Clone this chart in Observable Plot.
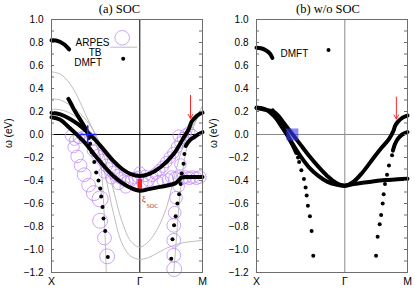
<!DOCTYPE html>
<html><head><meta charset="utf-8">
<script src="https://cdn.jsdelivr.net/npm/d3@7"></script>
<script src="https://cdn.jsdelivr.net/npm/@observablehq/plot@0.6"></script>
<style>
body{margin:0;background:#fff;}
#wrap{position:relative;width:415px;height:289px;overflow:hidden;}
#wrap svg{position:absolute;top:0;}
</style></head><body><div id="wrap"></div>
<script>
// ---- axes / labels ----
const kLabels = ["X", "Γ", "M"];
const kPos = [0, 1, 1.71];
const yTickLabels = [-1.2, -1.0, -0.8, -0.6, -0.4, -0.2, 0.0, 0.2, 0.4, 0.6, 0.8, 1.0];
const yMinorTicks = [-1.2,-1.1,-1.0,-0.9,-0.8,-0.7,-0.6,-0.5,-0.4,-0.3,-0.2,-0.1,0,0.1,0.2,0.3,0.4,0.5,0.6,0.7,0.8,0.9,1.0];
const yLabel = "ω (eV)";
const titleA = "(a) SOC";
const titleB = "(b) w/o SOC";
const legendA = ["ARPES", "TB", "DMFT"];
const legendB = ["DMFT"];

// ---- panel (a): DMFT (k, ω) ----
const dmftA_top = [[0,0.82],[0.05,0.818],[0.1,0.805],[0.15,0.78],[0.2,0.74]];
const dmftA_upper = [[0,0.19],[0.1,0.175],[0.2,0.14],[0.3,0.09],[0.4,0.025],[0.5,-0.05],[0.6,-0.14],[0.7,-0.23],[0.8,-0.30],[0.9,-0.345],[1.0,-0.36],[1.1,-0.345],[1.234,-0.285],[1.385,-0.168],[1.5,-0.023],[1.55,0.04],[1.57,0.08],[1.59,0.115],[1.63,0.15],[1.67,0.175],[1.71,0.19]];
const dmftA_lower = [[0,0.15],[0.1,0.128],[0.2,0.06],[0.3,-0.01],[0.4,-0.09],[0.5,-0.19],[0.6,-0.28],[0.7,-0.36],[0.8,-0.42],[0.9,-0.465],[1.0,-0.49],[1.1,-0.475],[1.2,-0.46],[1.3,-0.445],[1.4,-0.425],[1.44,-0.40],[1.47,-0.375],[1.55,-0.37],[1.63,-0.37],[1.71,-0.37]];
const dmftA_steepXG = [[0.19,0.31],[0.22,0.27],[0.26,0.21],[0.30,0.16],[0.34,0.11],[0.38,0.06],[0.41,0.01],[0.425,-0.03]];
const dmftA_steepGM = [[1.52,-0.10],[1.55,-0.065],[1.59,-0.035],[1.63,-0.015],[1.67,0.005],[1.71,0.02]];
const dmftA_dotsXG = [[0.438,-0.08],[0.456,-0.155],[0.484,-0.24],[0.506,-0.33],[0.532,-0.40],[0.552,-0.47],[0.563,-0.54],[0.578,-0.63],[0.589,-0.73],[0.608,-0.84],[0.638,-1.065]];
const dmftA_dotsGM = [[1.505,-0.17],[1.495,-0.255],[1.475,-0.34],[1.462,-0.43],[1.445,-0.52],[1.426,-0.60],[1.406,-0.71],[1.388,-0.79],[1.37,-0.91],[1.356,-1.08]];

// ---- panel (a): tight-binding bands ----
const tb1 = [[0,0.545],[0.1,0.525],[0.2,0.45],[0.3,0.32],[0.4,0.15],[0.47,0.04],[0.53,-0.1],[0.57,-0.35],[0.6,-0.75],[0.62,-1.2]];
const tb2 = [[0,0.31],[0.1,0.3],[0.2,0.26],[0.3,0.2],[0.4,0.12],[0.5,0.0],[0.6,-0.2],[0.7,-0.48],[0.8,-0.76],[0.9,-0.93],[1.0,-0.98],[1.1,-0.93],[1.2,-0.82],[1.3,-0.64],[1.35,-0.5],[1.4,-0.34],[1.45,-0.2],[1.5,-0.08],[1.6,0.08],[1.71,0.2]];
const tb3 = [[0,0.22],[0.1,0.215],[0.2,0.19],[0.3,0.14],[0.4,0.06],[0.5,-0.08],[0.6,-0.33],[0.7,-0.68],[0.8,-0.95],[0.9,-1.06],[1.0,-1.085],[1.1,-1.07],[1.2,-1.03],[1.3,-0.99],[1.4,-0.96],[1.5,-0.94],[1.6,-0.93],[1.71,-0.92]];
const tb4 = [[1.385,-1.2],[1.41,-0.95],[1.435,-0.7],[1.46,-0.49],[1.49,-0.3],[1.53,-0.12],[1.6,0.05],[1.71,0.25]];

// ---- panel (a): ARPES peaks (k, ω, width in eV) ----
const arpesA = [
 [0.22,-0.01,0.05],[0.26,-0.05,0.045],[0.31,-0.03,0.05],[0.36,-0.02,0.05],[0.40,-0.02,0.055],[0.44,-0.05,0.05],
 [0.25,-0.11,0.05],[0.29,-0.19,0.055],[0.33,-0.27,0.055],[0.37,-0.35,0.06],[0.42,-0.44,0.06],[0.48,-0.51,0.065],
 [0.55,-0.56,0.07],[0.55,-0.75,0.065],[0.60,-0.90,0.06],[0.63,-1.06,0.065],
 [0.47,-0.14,0.05],[0.52,-0.18,0.05],[0.57,-0.22,0.05],[0.62,-0.27,0.055],[0.66,-0.3,0.055],[0.7,-0.33,0.055],
 [0.74,-0.36,0.055],[0.78,-0.38,0.05],[0.82,-0.4,0.05],[0.86,-0.41,0.05],[0.9,-0.4,0.05],[0.94,-0.38,0.05],[0.98,-0.37,0.05],
 [0.6,-0.33,0.05],[0.68,-0.38,0.05],[0.76,-0.43,0.05],[0.84,-0.46,0.05],
 [1.0,-0.33,0.05],[1.03,-0.42,0.05],[1.06,-0.36,0.05],[1.1,-0.4,0.05],[1.14,-0.36,0.05],
 [1.18,-0.34,0.05],[1.22,-0.31,0.05],[1.26,-0.28,0.05],[1.3,-0.24,0.05],[1.34,-0.2,0.05],[1.38,-0.16,0.05],
 [1.42,-0.11,0.05],[1.46,-0.07,0.05],[1.49,-0.03,0.05],[1.52,0.0,0.05],[1.56,0.02,0.05],[1.44,-0.01,0.05],[1.6,0.0,0.045],
 [1.2,-0.41,0.05],[1.26,-0.4,0.05],[1.32,-0.39,0.05],[1.36,-0.37,0.055],[1.4,-0.38,0.055],[1.44,-0.37,0.055],
 [1.48,-0.38,0.055],[1.52,-0.37,0.055],[1.56,-0.38,0.055],[1.6,-0.37,0.055],[1.64,-0.38,0.055],[1.68,-0.37,0.055],
 [1.46,-0.26,0.05],[1.44,-0.45,0.05],[1.41,-0.55,0.055],[1.395,-0.68,0.055],[1.385,-0.79,0.06],[1.385,-0.92,0.06],
 [1.385,-1.05,0.06],[1.39,-1.17,0.065]
];

// ---- panel (a) annotations ----
const kfA = [[0.41, 0.0]];
const arrowA = [{k: 1.574, from: 0.34, to: 0.14}];
const socBar = [{k: 1, lo: -0.49, hi: -0.39}];

// ---- panel (b): DMFT without SOC ----
const dmftB_top = [[0,0.755],[0.05,0.75],[0.1,0.735],[0.15,0.705],[0.18,0.665]];
const dmftB_1 = [[0,0.235],[0.1,0.22],[0.2,0.16],[0.3,0.05],[0.4,-0.07],[0.5,-0.19],[0.6,-0.29],[0.7,-0.36],[0.8,-0.41],[0.9,-0.435],[1.0,-0.445],[1.1,-0.43],[1.2,-0.42],[1.3,-0.41],[1.4,-0.40],[1.5,-0.395],[1.6,-0.39],[1.71,-0.385]];
const dmftB_2 = [[0,0.23],[0.1,0.215],[0.2,0.195],[0.25,0.16],[0.3,0.11],[0.4,0.01],[0.5,-0.09],[0.6,-0.19],[0.7,-0.28],[0.8,-0.36],[0.9,-0.42],[1.0,-0.445],[1.1,-0.41],[1.2,-0.33],[1.3,-0.23],[1.4,-0.13],[1.5,-0.04],[1.55,0.03],[1.57,0.075],[1.6,0.11],[1.65,0.145],[1.71,0.165]];
const dmftB_steepXG = [[0.184,0.21],[0.22,0.16],[0.26,0.11],[0.30,0.06],[0.34,0.01],[0.38,-0.05],[0.42,-0.11],[0.45,-0.16]];
const dmftB_steepGM = [[1.545,-0.14],[1.565,-0.09],[1.59,-0.05],[1.62,-0.02],[1.65,0.0],[1.68,0.012],[1.71,0.02]];
const dmftB_dotsXG = [[0.47,-0.2],[0.483,-0.24],[0.508,-0.31],[0.537,-0.386],[0.556,-0.46],[0.568,-0.53],[0.582,-0.62],[0.605,-0.71],[0.624,-0.84],[0.643,-1.055]];
const dmftB_dotsGM = [[1.535,-0.18],[1.5,-0.27],[1.478,-0.35],[1.455,-0.43],[1.44,-0.52],[1.429,-0.60],[1.411,-0.70],[1.395,-0.78],[1.372,-0.89],[1.354,-1.055]];
const kfB = [[0.406, 0.0]];
const arrowB = [{k: 1.584, from: 0.325, to: 0.135}];

// ---- drawing ----
const kx = d => d[0], ey = d => d[1];
const SANS = "'Liberation Sans', Arial, Helvetica, sans-serif";
const SERIF = "'Liberation Serif', 'Times New Roman', serif";
const PURPLE = "#bd85f4";
const GRAY = "#b5b5b5";
const RED = "#ff2424";
const hline = {draw(ctx, size) { const h = Math.sqrt(size / Math.PI); ctx.moveTo(-h, 0); ctx.lineTo(h, 0); }};

function dense(list) {
  return list.map(b => Plot.line(b, {x: kx, y: ey, stroke: "#000", strokeWidth: 4, curve: "catmull-rom", strokeLinecap: "round", strokeLinejoin: "round"}));
}
function sparse(list) {
  return list.map(b => Plot.dot(b, {x: kx, y: ey, r: 2, fill: "#000", stroke: "none"}));
}
const W = 207, ML = 51, MR = 5, FW = W - ML - MR;

function frameMarks(lineColor) {
  return [
    Plot.ruleY([0], {stroke: lineColor, strokeWidth: 1}),
    Plot.ruleX([kPos[1]], {stroke: lineColor, strokeWidth: 1}),
  ];
}
function axesMarks(title, dxTitle) {
  return [
    Plot.frame({stroke: "#6e6e6e"}),
    Plot.tickY(yMinorTicks, {y: d => d, insetRight: FW - 3, stroke: "#6e6e6e"}),
    Plot.tickY(yMinorTicks, {y: d => d, insetLeft: FW - 3, stroke: "#6e6e6e"}),
    Plot.axisY(yTickLabels, {tickSize: 0, tickPadding: 8, tickFormat: d3.format(".1f"), fontSize: 10, label: null}),
    Plot.axisX(kPos, {tickSize: 0, tickPadding: 5, tickFormat: d => kLabels[kPos.indexOf(d)], fontSize: 10.5, label: null}),
    Plot.text([yLabel], {frameAnchor: "left", dx: -43, dy: 2, rotate: -90, fontSize: 10}),
    Plot.text([title], {frameAnchor: "top", dx: dxTitle, dy: -7, lineAnchor: "bottom", fontFamily: SERIF, fontSize: 12.5})
  ];
}

const plotA = Plot.plot({
  width: W, height: 289, marginLeft: ML, marginRight: MR, marginTop: 19, marginBottom: 17,
  x: {domain: [kPos[0], kPos[2]], axis: null, label: null},
  y: {domain: [-1.2, 1.0], axis: null, label: null},
  r: {type: "linear", domain: [0, 0.1], range: [0, 11.47]},
  style: {fontFamily: SANS, fontSize: "10px", background: "none", overflow: "visible"},
  marks: [
    ...frameMarks("#000"),
    ...[tb1, tb2, tb3, tb4].map(t => Plot.line(t, {x: kx, y: ey, stroke: GRAY, strokeWidth: 0.9, curve: "catmull-rom"})),
    Plot.dot(arpesA, {x: kx, y: ey, r: d => d[2], stroke: PURPLE, strokeWidth: 0.75, fill: "none"}),
    Plot.ruleX(socBar, {x: "k", y1: "lo", y2: "hi", stroke: RED, strokeWidth: 4.5}),
    ...dense([dmftA_top, dmftA_upper, dmftA_lower, dmftA_steepXG, dmftA_steepGM]),
    ...sparse([dmftA_dotsXG, dmftA_dotsGM]),
    Plot.dot(kfA, {x: kx, y: ey, symbol: "plus", r: 6, stroke: "#2222ff", strokeWidth: 1.6}),
    Plot.arrow(arrowA, {x1: "k", x2: "k", y1: "from", y2: "to", stroke: RED, strokeWidth: 1, headLength: 7}),
    Plot.text(socBar, {x: "k", y: "lo", text: () => "ξ", dx: 4, dy: 8, fill: "#a83030", fontFamily: SERIF, fontSize: 9}),
    Plot.text(socBar, {x: "k", y: "lo", text: () => "SOC", dx: 12.5, dy: 15, fill: "#a83030", fontFamily: SERIF, fontSize: 6}),
    // legend
    Plot.text([legendA[0]], {frameAnchor: "top-left", dx: 58, dy: 19, textAnchor: "end", fontSize: 10}),
    Plot.text([legendA[1]], {frameAnchor: "top-left", dx: 50, dy: 29, textAnchor: "end", fontSize: 10}),
    Plot.text([legendA[2]], {frameAnchor: "top-left", dx: 50.5, dy: 39, textAnchor: "end", fontSize: 10}),
    Plot.dot([0], {frameAnchor: "top-left", dx: 70.7, dy: 18.3, r: 7.3, stroke: PURPLE, strokeWidth: 0.75, fill: "none"}),
    Plot.dot([0], {frameAnchor: "top-left", dx: 72.3, dy: 27.7, r: 13.3, symbol: hline, stroke: GRAY, strokeWidth: 0.9, fill: "none"}),
    Plot.dot([0], {frameAnchor: "top-left", dx: 71.7, dy: 39.3, r: 2, fill: "#000", stroke: "none"}),
    ...axesMarks(titleA, -7.5)
  ]
});

const plotB = Plot.plot({
  width: W, height: 289, marginLeft: ML, marginRight: MR, marginTop: 19, marginBottom: 17,
  x: {domain: [kPos[0], kPos[2]], axis: null, label: null},
  y: {domain: [-1.2, 1.0], axis: null, label: null},
  style: {fontFamily: SANS, fontSize: "10px", background: "none", overflow: "visible"},
  marks: [
    ...frameMarks("#8a8a8a"),
    ...dense([dmftB_top, dmftB_1, dmftB_2, dmftB_steepXG, dmftB_steepGM]),
    ...sparse([dmftB_dotsXG, dmftB_dotsGM]),
    Plot.dot(kfB, {x: kx, y: ey, symbol: "square", r: 6.8, fill: "#3b3bff", fillOpacity: 0.6, stroke: "none"}),
    Plot.arrow(arrowB, {x1: "k", x2: "k", y1: "from", y2: "to", stroke: RED, strokeWidth: 1, headLength: 7}),
    Plot.text([legendB[0]], {frameAnchor: "top-left", dx: 24, dy: 30, textAnchor: "start", fontSize: 10}),
    Plot.dot([0], {frameAnchor: "top-left", dx: 72, dy: 30.5, r: 2, fill: "#000", stroke: "none"}),
    ...axesMarks(titleB, -4)
  ]
});

const wrap = document.getElementById("wrap");
plotA.style.left = "0px";
plotB.style.left = "205px";
wrap.appendChild(plotA);
wrap.appendChild(plotB);
</script>
</body></html>
